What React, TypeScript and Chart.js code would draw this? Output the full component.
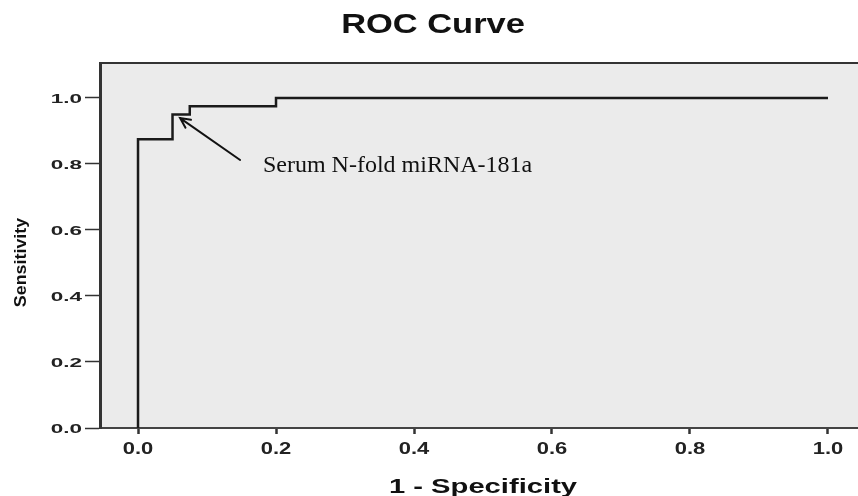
import React, { useEffect, useRef } from "react";
import { Chart, registerables } from "chart.js";

Chart.register(...registerables);

// ROC curve points (1 - specificity, sensitivity)
const FPR = [0, 0, 0.05, 0.075, 0.2, 1.0];
const TPR = [0, 0.875, 0.95, 0.975, 1.0, 1.0];

const X_TICKS = [0, 0.2, 0.4, 0.6, 0.8, 1.0];
const Y_TICKS = [0, 0.2, 0.4, 0.6, 0.8, 1.0];
const X_TICK_LABELS = ["0.0", "0.2", "0.4", "0.6", "0.8", "1.0"];
const Y_TICK_LABELS = ["0.0", "0.2", "0.4", "0.6", "0.8", "1.0"];

const TITLE = "ROC Curve";
const X_TITLE = "1 - Specificity";
const Y_TITLE = "Sensitivity";
const ANNOTATION = "Serum N-fold miRNA-181a";
// annotation anchors in data units
const ARROW_FROM = [0.148, 0.812];
const ARROW_TO = [0.061, 0.939];
const LABEL_AT = [0.181, 0.776];

const SANS = "'Liberation Sans', Arial, sans-serif";
const SERIF = "'Liberation Serif', 'Times New Roman', serif";

function stretchedText(
  ctx: CanvasRenderingContext2D,
  text: string,
  x: number,
  y: number,
  font: string,
  sx: number,
  align: "left" | "center" | "right",
  color = "#111"
) {
  ctx.save();
  ctx.font = font;
  ctx.textAlign = "left";
  ctx.textBaseline = "alphabetic";
  ctx.fillStyle = color;
  const w = ctx.measureText(text).width * sx;
  const left = align === "center" ? x - w / 2 : align === "right" ? x - w : x;
  ctx.translate(left, y);
  ctx.scale(sx, 1);
  ctx.fillText(text, 0, 0);
  ctx.restore();
}

const decorPlugin = {
  id: "decor",
  beforeDraw(chart: any) {
    const { ctx, chartArea } = chart;
    ctx.save();
    ctx.fillStyle = "#fff";
    ctx.fillRect(0, 0, chart.width, chart.height);
    ctx.fillStyle = "#ebebeb";
    ctx.fillRect(chartArea.left, chartArea.top, chartArea.right - chartArea.left, chartArea.bottom - chartArea.top);
    ctx.restore();
  },
  afterDraw(chart: any) {
    const { ctx, chartArea, scales } = chart;
    const xs = scales.x;
    const ys = scales.y;

    // top frame line
    ctx.save();
    ctx.strokeStyle = "#333";
    ctx.lineWidth = 2;
    ctx.beginPath();
    ctx.moveTo(chartArea.left, chartArea.top);
    ctx.lineTo(chartArea.right, chartArea.top);
    ctx.stroke();
    ctx.restore();

    // tick labels
    X_TICKS.forEach((v, i) => {
      stretchedText(ctx, X_TICK_LABELS[i], xs.getPixelForValue(v), chartArea.bottom + 26, `bold 16.5px ${SANS}`, 1.33, "center", "#222");
    });
    Y_TICKS.forEach((v, i) => {
      stretchedText(ctx, Y_TICK_LABELS[i], chartArea.left - 18, ys.getPixelForValue(v) + 5, `bold 12.5px ${SANS}`, 1.8, "right", "#222");
    });

    // titles
    stretchedText(ctx, TITLE, 433, 33, `bold 28px ${SANS}`, 1.23, "center");
    stretchedText(ctx, X_TITLE, (chartArea.left + chartArea.right) / 2 + 4, 493, `bold 21px ${SANS}`, 1.39, "center");

    ctx.save();
    ctx.translate(26, (chartArea.top + chartArea.bottom) / 2 + 17);
    ctx.rotate(-Math.PI / 2);
    stretchedText(ctx, Y_TITLE, 0, 0, `bold 17px ${SANS}`, 1.05, "center");
    ctx.restore();

    // annotation arrow
    const x1 = xs.getPixelForValue(ARROW_FROM[0]);
    const y1 = ys.getPixelForValue(ARROW_FROM[1]);
    const x2 = xs.getPixelForValue(ARROW_TO[0]);
    const y2 = ys.getPixelForValue(ARROW_TO[1]);
    const ang = Math.atan2(y2 - y1, x2 - x1);
    const head = 11;
    ctx.save();
    ctx.strokeStyle = "#111";
    ctx.lineWidth = 2;
    ctx.lineCap = "round";
    ctx.beginPath();
    ctx.moveTo(x1, y1);
    ctx.lineTo(x2, y2);
    ctx.moveTo(x2 - head * Math.cos(ang - 0.45), y2 - head * Math.sin(ang - 0.45));
    ctx.lineTo(x2, y2);
    ctx.lineTo(x2 - head * Math.cos(ang + 0.45), y2 - head * Math.sin(ang + 0.45));
    ctx.stroke();
    ctx.restore();

    stretchedText(ctx, ANNOTATION, xs.getPixelForValue(LABEL_AT[0]), ys.getPixelForValue(LABEL_AT[1]), `24px ${SERIF}`, 1.0, "left");
  },
};

export default function App() {
  const canvasRef = useRef<HTMLCanvasElement | null>(null);

  useEffect(() => {
    document.body.style.margin = "0";
    document.body.style.overflow = "hidden";
    const canvas = canvasRef.current;
    if (!canvas) return;
    const chart = new Chart(canvas, {
      type: "line",
      data: {
        datasets: [
          {
            label: ANNOTATION,
            data: FPR.map((x, i) => ({ x, y: TPR[i] })),
            borderColor: "#1a1a1a",
            borderWidth: 2.5,
            pointRadius: 0,
            stepped: "before",
            fill: false,
          },
        ],
      },
      options: {
        responsive: false,
        animation: false,
        events: [],
        layout: { padding: { left: 85, top: 63, right: 0, bottom: 62 } },
        plugins: {
          legend: { display: false },
          tooltip: { enabled: false },
          title: { display: false },
        },
        scales: {
          x: {
            type: "linear",
            min: -0.0551,
            max: 1.0435,
            afterBuildTicks: (axis: any) => {
              axis.ticks = X_TICKS.map((v) => ({ value: v }));
            },
            ticks: { display: false },
            grid: {
              drawOnChartArea: false,
              drawTicks: true,
              tickLength: 6,
              tickWidth: 2.5,
              tickColor: "#333",
            },
            border: { display: true, color: "#444", width: 2 },
          },
          y: {
            type: "linear",
            min: 0,
            max: 1.106,
            afterBuildTicks: (axis: any) => {
              axis.ticks = Y_TICKS.map((v) => ({ value: v }));
            },
            ticks: { display: false },
            grid: {
              drawOnChartArea: false,
              drawTicks: true,
              tickLength: 15,
              tickWidth: 1.5,
              tickColor: "#333",
            },
            border: { display: true, color: "#333", width: 3 },
          },
        },
      },
      plugins: [decorPlugin],
    } as any);
    return () => chart.destroy();
  }, []);

  return (
    <div style={{ width: 858, height: 496 }}>
      <canvas ref={canvasRef} width={858} height={496} style={{ display: "block" }} />
    </div>
  );
}
